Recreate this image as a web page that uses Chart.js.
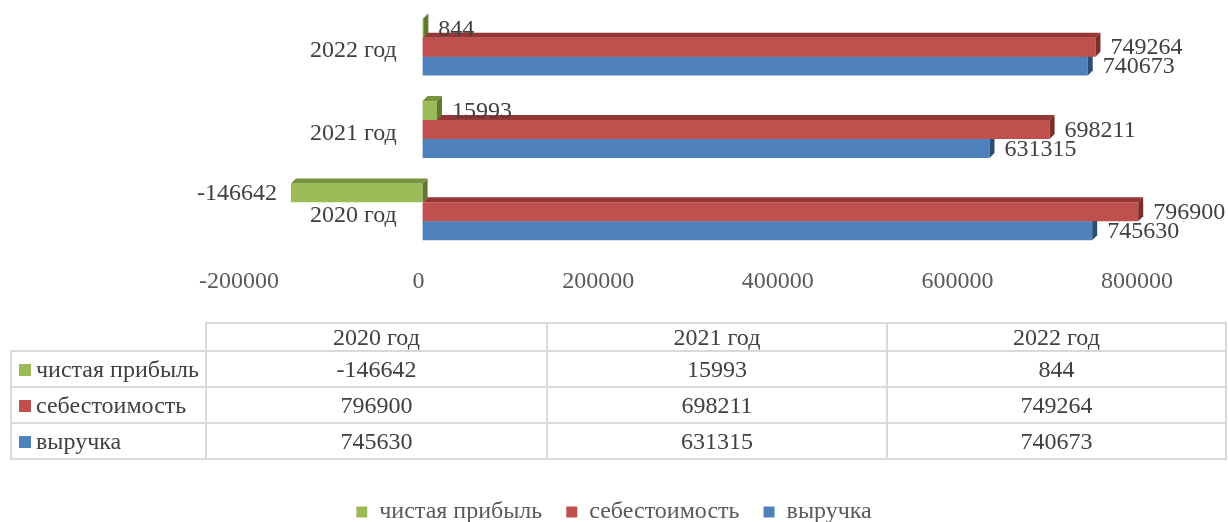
<!DOCTYPE html>
<html lang="ru">
<head>
<meta charset="utf-8">
<title>Выручка, себестоимость и чистая прибыль</title>
<script src="https://cdn.jsdelivr.net/npm/chart.js@4.4.0/dist/chart.umd.min.js"></script>
<style>
    html, body { margin: 0; padding: 0; background: #fff; overflow: hidden; }
    #wrap { position: relative; width: 1228px; height: 534px; }
    #chart { position: absolute; left: 0; top: 0; }
    #dataTable {
        position: absolute; left: 10px; top: 322px;
        border-collapse: collapse; table-layout: fixed;
        font-family: 'Liberation Serif', 'Times New Roman', serif;
        font-size: 24px; color: #404040;
    }
    #dataTable td { border: 2px solid #d9d9d9; text-align: center; padding: 0; white-space: nowrap; }
    #dataTable tr.head td { height: 26px; line-height: 26px; }
    #dataTable tr.row td { height: 34px; line-height: 34px; }
    #dataTable td.corner { border-top: none; border-left: none; }
    #dataTable td.name { text-align: left; padding-left: 7px; }
    .key { display: inline-block; width: 12px; height: 12px; margin-right: 5px; vertical-align: 1px; }
</style>
</head>
<body>
<div id="wrap">
    <canvas id="chart" width="1228" height="534"></canvas>
    <table id="dataTable"></table>
</div>
<script>
(function() {
    'use strict';

    // Data
    const years = ['2020 год', '2021 год', '2022 год'];
    const seriesNames = ['чистая прибыль', 'себестоимость', 'выручка'];
    const netProfit = [-146642, 15993, 844];
    const costPrice = [796900, 698211, 749264];
    const revenue = [745630, 631315, 740673];
    const xTicks = [-200000, 0, 200000, 400000, 600000, 800000];

    // Colors: front face, top face, side face
    const COLORS = {
        green: ['#9bbb59', '#77933c', '#5f7a2e'],
        red: ['#c0504d', '#943634', '#7e2c2a'],
        blue: ['#4f81bd', '#3a6496', '#2c4d75'],
        text: '#404040',
        axis: '#595959'
    };
    const FONT = "'Liberation Serif', 'Times New Roman', serif";
    const DEPTH_X = 5;
    const DEPTH_Y = -5;

    const seriesValues = [netProfit, costPrice, revenue];
    const seriesColors = [COLORS.green, COLORS.red, COLORS.blue];

    // Draws top and right faces so the bars look like the 3D ones
    const bar3d = {
        id: 'bar3d',
        afterDatasetDraw(chart, args) {
            const ctx = chart.ctx;
            const cols = seriesColors[args.index];
            ctx.save();
            args.meta.data.forEach(el => {
                const p = el.getProps(['x', 'y', 'base', 'height'], true);
                const left = Math.min(p.x, p.base);
                const right = Math.max(p.x, p.base);
                const top = p.y - p.height / 2;
                const bottom = p.y + p.height / 2;

                ctx.fillStyle = cols[1];
                ctx.beginPath();
                ctx.moveTo(left, top);
                ctx.lineTo(right, top);
                ctx.lineTo(right + DEPTH_X, top + DEPTH_Y);
                ctx.lineTo(left + DEPTH_X, top + DEPTH_Y);
                ctx.closePath();
                ctx.fill();

                ctx.fillStyle = cols[2];
                ctx.beginPath();
                ctx.moveTo(right, top);
                ctx.lineTo(right + DEPTH_X, top + DEPTH_Y);
                ctx.lineTo(right + DEPTH_X, bottom + DEPTH_Y);
                ctx.lineTo(right, bottom);
                ctx.closePath();
                ctx.fill();
            });
            ctx.restore();
        }
    };

    // Value labels next to each bar
    const valueLabels = {
        id: 'valueLabels',
        afterDatasetsDraw(chart) {
            const ctx = chart.ctx;
            ctx.save();
            ctx.font = '24px ' + FONT;
            ctx.fillStyle = COLORS.text;
            ctx.textBaseline = 'middle';
            chart.data.datasets.forEach((ds, i) => {
                chart.getDatasetMeta(i).data.forEach((el, j) => {
                    const p = el.getProps(['x', 'y', 'base'], true);
                    const v = ds.data[j];
                    if (v < 0) {
                        ctx.textAlign = 'right';
                        ctx.fillText(String(v), Math.min(p.x, p.base) - 14, p.y + 1);
                    } else {
                        ctx.textAlign = 'left';
                        ctx.fillText(String(v), Math.max(p.x, p.base) + 15, p.y + 1);
                    }
                });
            });
            ctx.restore();
        }
    };

    new Chart(document.getElementById('chart'), {
        type: 'bar',
        data: {
            labels: years,
            datasets: seriesNames.map((name, i) => ({
                label: name,
                data: seriesValues[i],
                backgroundColor: seriesColors[i][0],
                borderWidth: 0,
                categoryPercentage: 0.69,
                barPercentage: 1
            }))
        },
        options: {
            indexAxis: 'y',
            responsive: false,
            animation: false,
            layout: { padding: { top: 6, left: 0, right: 0, bottom: 0 } },
            plugins: {
                legend: {
                    position: 'bottom',
                    labels: {
                        boxWidth: 11,
                        boxHeight: 11,
                        padding: 24,
                        color: COLORS.axis,
                        font: { family: FONT, size: 24 }
                    }
                },
                tooltip: { enabled: false }
            },
            scales: {
                x: {
                    min: xTicks[0],
                    max: xTicks[xTicks.length - 1],
                    afterBuildTicks: scale => {
                        scale.ticks = xTicks.map(v => ({ value: v }));
                    },
                    afterFit: scale => {
                        scale.height = 223;
                    },
                    grid: { display: false, drawTicks: false },
                    border: { display: false },
                    ticks: {
                        padding: 14,
                        labelOffset: -4,
                        color: COLORS.axis,
                        font: { family: FONT, size: 24 },
                        callback: v => String(v)
                    }
                },
                y: {
                    reverse: true,
                    position: 'left',
                    afterFit: scale => {
                        // labels sit inside the plot next to the zero line
                        scale.width = 243;
                        scale.paddingTop = 0;
                        scale.paddingBottom = 0;
                    },
                    grid: { display: false, drawTicks: false },
                    border: { display: false },
                    ticks: {
                        mirror: true,
                        padding: 67,
                        labelOffset: 4,
                        color: COLORS.text,
                        font: { family: FONT, size: 24 }
                    }
                },
                // empty spacer on the right, keeps room for the value labels
                yRight: {
                    type: 'linear',
                    axis: 'y',
                    position: 'right',
                    afterFit: scale => {
                        scale.width = 87;
                        scale.paddingTop = 0;
                        scale.paddingBottom = 0;
                    },
                    grid: { display: false, drawTicks: false },
                    border: { display: false },
                    ticks: { display: false }
                }
            }
        },
        plugins: [bar3d, valueLabels]
    });

    // Data table under the chart
    const table = document.getElementById('dataTable');
    const colWidths = [195, 341, 340, 339];
    const colgroup = document.createElement('colgroup');
    colWidths.forEach(w => {
        const c = document.createElement('col');
        c.style.width = w + 'px';
        colgroup.appendChild(c);
    });
    table.appendChild(colgroup);

    const head = document.createElement('tr');
    head.className = 'head';
    const corner = document.createElement('td');
    corner.className = 'corner';
    head.appendChild(corner);
    years.forEach(y => {
        const td = document.createElement('td');
        td.textContent = y;
        head.appendChild(td);
    });
    table.appendChild(head);

    seriesNames.forEach((name, i) => {
        const tr = document.createElement('tr');
        tr.className = 'row';
        const th = document.createElement('td');
        th.className = 'name';
        const key = document.createElement('span');
        key.className = 'key';
        key.style.background = seriesColors[i][0];
        th.appendChild(key);
        th.appendChild(document.createTextNode(name));
        tr.appendChild(th);
        seriesValues[i].forEach(v => {
            const td = document.createElement('td');
            td.textContent = String(v);
            tr.appendChild(td);
        });
        table.appendChild(tr);
    });
})();
</script>
</body>
</html>
